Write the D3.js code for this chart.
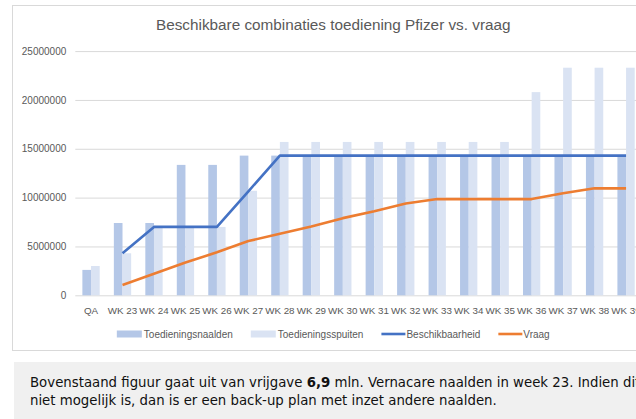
<!DOCTYPE html>
<html>
<head>
<meta charset="utf-8">
<script src="https://cdn.jsdelivr.net/npm/d3@7"></script>
<style>
  body { margin: 0; background: #fff; }
  svg { display: block; }
</style>
</head>
<body>
<svg id="chart" width="636" height="419"></svg>
<script>
const categories = ['QA', 'WK 23', 'WK 24', 'WK 25', 'WK 26', 'WK 27', 'WK 28', 'WK 29', 'WK 30',
  'WK 31', 'WK 32', 'WK 33', 'WK 34', 'WK 35', 'WK 36', 'WK 37', 'WK 38', 'WK 39']
const naalden = [2600000, 7400000, 7400000, 13350000, 13350000, 14300000, 14300000, 14300000, 14300000,
  14300000, 14300000, 14300000, 14300000, 14300000, 14300000, 14300000, 14300000, 14300000]
const spuiten = [3000000, 4300000, 7000000, 7000000, 7000000, 10700000, 15700000, 15700000, 15700000,
  15700000, 15700000, 15700000, 15700000, 15700000, 20800000, 23300000, 23300000, 23300000]
const beschikbaarheid = [null, 4300000, 7000000, 7000000, 7000000, 10650000, 14300000, 14300000, 14300000,
  14300000, 14300000, 14300000, 14300000, 14300000, 14300000, 14300000, 14300000, 14300000]
const vraag = [null, 1050000, 2200000, 3350000, 4400000, 5550000, 6300000, 7050000, 7900000,
  8600000, 9400000, 9850000, 9850000, 9850000, 9850000, 10450000, 10950000, 10950000]
const yTicks = [0, 5000000, 10000000, 15000000, 20000000, 25000000]
const legendItems = ['Toedieningsnaalden', 'Toedieningsspuiten', 'Beschikbaarheid', 'Vraag']

const colors = {
  naalden: '#b4c7e7',
  spuiten: '#dae3f3',
  beschikbaarheid: '#4472c4',
  vraag: '#ed7d31'
}
const font = 'Liberation Sans, Arial, sans-serif'

const svg = d3.select('#chart')
const frame = { left: 12.5, top: 5.5, right: 660, bottom: 350.5 }
const plot = { left: 75.3, right: 641.8, top: 51.1, bottom: 295.3 }

// chart frame
svg.append('rect')
  .attr('x', frame.left)
  .attr('y', frame.top)
  .attr('width', frame.right - frame.left)
  .attr('height', frame.bottom - frame.top)
  .attr('fill', '#fff')
  .attr('stroke', '#d9d9d9')

const frameMid = (frame.left + 654) / 2

svg.append('text')
  .attr('x', frameMid)
  .attr('y', 30)
  .attr('text-anchor', 'middle')
  .style('font-family', font)
  .style('font-size', '15.3px')
  .style('fill', '#595959')
  .text('Beschikbare combinaties toediening Pfizer vs. vraag')

const x = d3.scaleBand()
  .domain(categories)
  .range([plot.left, plot.right])
  .paddingInner(0.45)
  .paddingOuter(0.225)
const xSub = d3.scaleBand()
  .domain(['naalden', 'spuiten'])
  .range([0, x.bandwidth()])
const y = d3.scaleLinear()
  .domain([0, 25000000])
  .range([plot.bottom, plot.top])

// gridlines + y labels
const yAxis = svg.append('g')
  .attr('transform', `translate(${plot.left}, 0)`)
  .call(d3.axisLeft(y).tickValues(yTicks).tickFormat(d3.format('d'))
    .tickSize(-(plot.right - plot.left)).tickPadding(9))
yAxis.select('.domain').remove()
yAxis.selectAll('line').attr('stroke', '#d9d9d9')
yAxis.selectAll('text')
  .style('font-family', font)
  .style('font-size', '10px')
  .style('fill', '#595959')

// bars
const group = svg.append('g')
  .selectAll('g')
  .data(categories)
  .enter().append('g')
    .attr('transform', d => `translate(${x(d)}, 0)`)

group.append('rect')
  .attr('x', xSub('naalden'))
  .attr('y', (d, i) => y(naalden[i]))
  .attr('width', xSub.bandwidth())
  .attr('height', (d, i) => y(0) - y(naalden[i]))
  .style('fill', colors.naalden)

group.append('rect')
  .attr('x', xSub('spuiten'))
  .attr('y', (d, i) => y(spuiten[i]))
  .attr('width', xSub.bandwidth())
  .attr('height', (d, i) => y(0) - y(spuiten[i]))
  .style('fill', colors.spuiten)

// lines
const line = d3.line()
  .defined(d => d[1] != null)
  .x(d => x(d[0]) + x.bandwidth() / 2)
  .y(d => y(d[1]))

svg.append('path')
  .datum(categories.map((c, i) => [c, beschikbaarheid[i]]))
  .attr('d', line)
  .attr('fill', 'none')
  .attr('stroke', colors.beschikbaarheid)
  .attr('stroke-width', 2.6)
  .attr('stroke-linejoin', 'round')

svg.append('path')
  .datum(categories.map((c, i) => [c, vraag[i]]))
  .attr('d', line)
  .attr('fill', 'none')
  .attr('stroke', colors.vraag)
  .attr('stroke-width', 2.6)
  .attr('stroke-linejoin', 'round')

// category labels
const xAxis = svg.append('g')
  .attr('transform', `translate(0, ${plot.bottom})`)
  .call(d3.axisBottom(x).tickSize(0).tickPadding(12))
xAxis.select('.domain').remove()
xAxis.selectAll('text')
  .style('font-family', font)
  .style('font-size', '9.8px')
  .style('fill', '#595959')

// legend
const legend = svg.append('g')
const legendKeys = ['naalden', 'spuiten', 'beschikbaarheid', 'vraag']
let lx = 0
legendItems.forEach((name, i) => {
  const item = legend.append('g').attr('transform', `translate(${lx}, 0)`)
  if (i < 2) {
    item.append('rect')
      .attr('x', 0).attr('y', -3.5)
      .attr('width', 25).attr('height', 7)
      .style('fill', colors[legendKeys[i]])
  } else {
    item.append('line')
      .attr('x1', 0).attr('x2', 24)
      .attr('stroke', colors[legendKeys[i]])
      .attr('stroke-width', 2.6)
  }
  const t = item.append('text')
    .attr('x', i < 2 ? 27 : 25)
    .attr('dy', '0.35em')
    .style('font-family', font)
    .style('font-size', '10px')
    .style('fill', '#595959')
    .text(name)
  lx += (i < 2 ? 27 : 25) + t.node().getComputedTextLength() + 18
})
const legendWidth = lx - 18
legend.attr('transform', `translate(${frameMid - legendWidth / 2}, 334)`)

// note below the chart
svg.append('rect')
  .attr('x', 14)
  .attr('y', 362)
  .attr('width', 640)
  .attr('height', 60)
  .style('fill', '#f0f0f0')

const note = svg.append('text')
  .style('font-family', 'DejaVu Sans, Verdana, sans-serif')
  .style('font-size', '13.3px')
  .style('fill', '#111')
note.append('tspan')
  .attr('x', 30).attr('y', 387)
  .text('Bovenstaand figuur gaat uit van vrijgave ')
note.append('tspan')
  .style('font-weight', 'bold')
  .text('6,9')
note.append('tspan')
  .text(' mln. Vernacare naalden in week 23. Indien dit')
note.append('tspan')
  .attr('x', 30).attr('y', 405)
  .text('niet mogelijk is, dan is er een back-up plan met inzet andere naalden.')
</script>
</body>
</html>
